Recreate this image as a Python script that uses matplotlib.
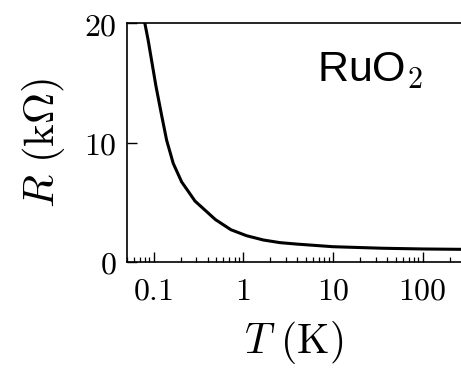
import matplotlib
matplotlib.use("Agg")
import matplotlib.pyplot as plt
from matplotlib.ticker import LogLocator, FixedLocator, FixedFormatter, NullFormatter

plt.rcParams['mathtext.fontset'] = 'cm'
plt.rcParams['font.family'] = 'DejaVu Serif'

# data
temperature_K = [0.079, 0.087, 0.1066, 0.123, 0.14, 0.166, 0.206, 0.25, 0.29, 0.49,
                 0.73, 1.09, 1.68, 2.57, 3.94, 10, 36, 100, 268]
resistance_kohm = [20.2, 18.6, 14.7, 12.3, 10.2, 8.25, 6.7, 5.8, 5.1, 3.55,
                   2.7, 2.2, 1.84, 1.62, 1.5, 1.28, 1.15, 1.09, 1.06]
x_ticks = [0.1, 1, 10, 100]
x_tick_labels = ['$0.1$', '$1$', '$10$', '$100$']
y_ticks = [0, 10, 20]
y_tick_labels = ['$0$', '$10$', '$20$']

fig = plt.figure(figsize=(4.61, 3.68), dpi=100)
ax = fig.add_axes([126.5/461, 1-262/368, 1-126.5/461, (262-23)/368])

ax.plot(temperature_K, resistance_kohm, color='black', lw=2.2,
        solid_capstyle='butt', solid_joinstyle='round')
ax.set_xscale('log')
ax.set_xlim(0.05, 268)
ax.set_ylim(0, 20)

ax.xaxis.set_major_locator(FixedLocator(x_ticks))
ax.xaxis.set_major_formatter(FixedFormatter(x_tick_labels))
ax.xaxis.set_minor_locator(LogLocator(base=10, subs=range(2, 10), numticks=20))
ax.xaxis.set_minor_formatter(NullFormatter())
ax.yaxis.set_major_locator(FixedLocator(y_ticks))
ax.yaxis.set_major_formatter(FixedFormatter(y_tick_labels))
ax.yaxis.set_minor_locator(FixedLocator([]))

ax.tick_params(which='major', direction='in', length=7, width=1.0, labelsize=23,
               top=False, right=False, pad=7)
ax.tick_params(axis='x', which='major', pad=10)
ax.tick_params(which='minor', direction='in', length=3.5, width=0.9, top=False, right=False)

for s in ['left', 'bottom', 'top']:
    ax.spines[s].set_linewidth(1.2)
ax.spines['right'].set_visible(False)

ax.set_xlabel(r'$T\ (\mathrm{K})$', fontsize=30, labelpad=9)
ax.set_ylabel(r'$R\ (\mathrm{k}\Omega)$', fontsize=31, labelpad=12)

ax.text(370/461, 1-71/368, r'RuO$_2$', transform=fig.transFigure, fontsize=31,
        family='Liberation Sans', ha='center', va='center')

fig.savefig('out.png', dpi=100)
